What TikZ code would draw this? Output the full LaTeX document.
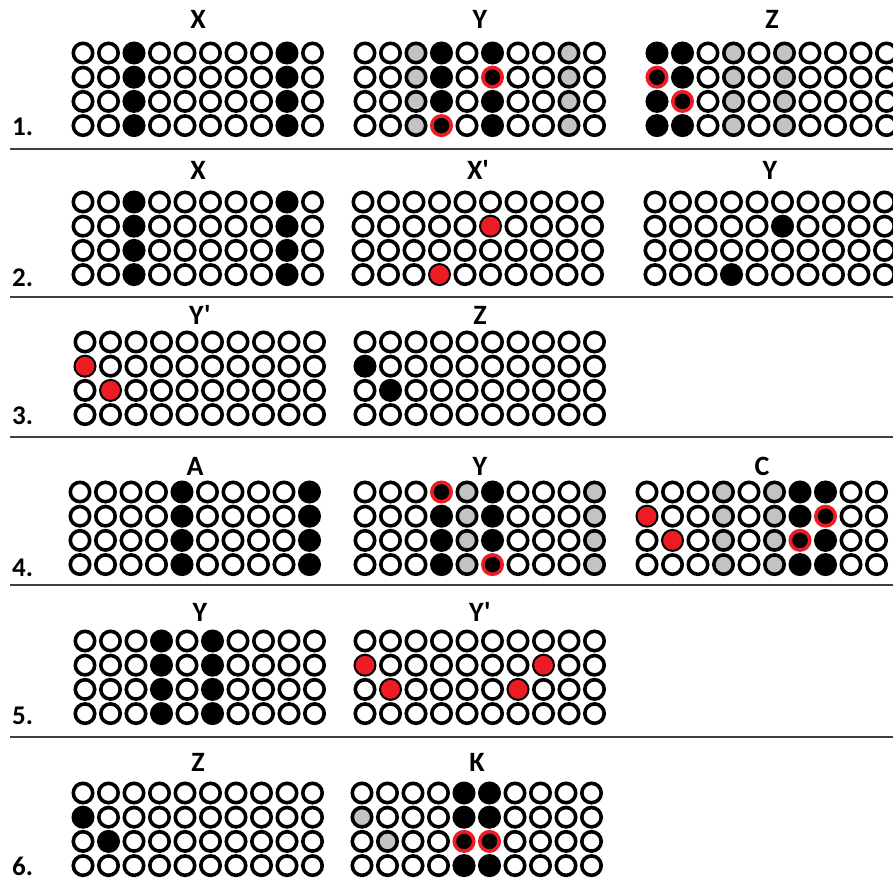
\documentclass[tikz,border=0pt]{standalone}
\usepackage{fontspec}
\newfontfamily\lblfont{Carlito}
\definecolor{dotgrey}{HTML}{C3C3C3}
\definecolor{dotred}{HTML}{ED1C24}
\definecolor{rulegrey}{HTML}{404040}

\begin{document}
\begin{tikzpicture}[
x=1pt, y=-1pt,
dot/.style={circle, draw=black, line width=3.6pt, fill=white, minimum size=19.4pt, inner sep=0pt},
blk/.style={fill=black},
gry/.style={fill=dotgrey},
redfill/.style={fill=dotred, line width=2pt, minimum size=21pt},
redring/.style={fill=black, draw=dotred},
title/.style={font=\lblfont\bfseries\fontsize{28}{28}\selectfont, inner sep=0pt},
rowno/.style={font=\lblfont\bfseries\fontsize{27}{27}\selectfont, anchor=base west, inner sep=0pt},
rule/.style={rulegrey, line width=2pt},
% --- Patterns: column keys grid-col, cell keys grid-col-row ---
1x-3/.style=blk, 1x-9/.style=blk,
1y-3/.style=gry, 1y-4/.style=blk, 1y-6/.style=blk, 1y-9/.style=gry, 1y-4-4/.style=redring, 1y-6-2/.style=redring,
1z-1/.style=blk, 1z-2/.style=blk, 1z-4/.style=gry, 1z-6/.style=gry, 1z-1-2/.style=redring, 1z-2-3/.style=redring,
2x-3/.style=blk, 2x-9/.style=blk,
2xp-6-2/.style=redfill, 2xp-4-4/.style=redfill,
2y-6-2/.style=blk, 2y-4-4/.style=blk,
3yp-1-2/.style=redfill, 3yp-2-3/.style=redfill,
3z-1-2/.style=blk, 3z-2-3/.style=blk,
4a-5/.style=blk, 4a-10/.style=blk,
4y-4/.style=blk, 4y-5/.style=gry, 4y-6/.style=blk, 4y-10/.style=gry, 4y-4-1/.style=redring, 4y-6-4/.style=redring,
4c-4/.style=gry, 4c-6/.style=gry, 4c-7/.style=blk, 4c-8/.style=blk, 4c-8-2/.style=redring, 4c-7-3/.style=redring,
4c-1-2/.style=redfill, 4c-2-3/.style=redfill,
5y-4/.style=blk, 5y-6/.style=blk,
5yp-1-2/.style=redfill, 5yp-2-3/.style=redfill, 5yp-8-2/.style=redfill, 5yp-7-3/.style=redfill,
6z-1-2/.style=blk, 6z-2-3/.style=blk,
6k-5/.style=blk, 6k-6/.style=blk, 6k-5-3/.style=redring, 6k-6-3/.style=redring, 6k-1-2/.style=gry, 6k-2-3/.style=gry
]
\useasboundingbox (0,0) rectangle (893,881);

% --- Dot grids ---
\foreach \g/\gx/\gy/\ty/\lbl in {1x/83/53/19/X, 1y/365/53/19/Y, 1z/657/53/19/Z,
  2x/83/202/170/X, 2xp/363/202/170/X', 2y/655/202/170/Y,
  3yp/85/342/315/Y', 3z/365/342/315/Z,
  4a/80/492/466/A, 4y/365/492/466/Y, 4c/647/492/466/C,
  5y/85/641/612/Y, 5yp/365/641/612/Y',
  6z/83/793/762/Z, 6k/362/793/762/K} {
  \node[title] (\g) at (\gx+115,\ty) {\lbl};
  \foreach \c in {1,...,10}
    \foreach \r in {1,...,4}
      \node[dot, \g-\c/.try, \g-\c-\r/.try] (\g-\c-\r) at ({\gx+(\c-1)*25.5},{\gy+(\r-1)*24.2}) {};
}

% --- Row numbers ---
\node[rowno] (n1) at (12,135) {1.};
\node[rowno] (n2) at (12,286) {2.};
\node[rowno] (n3) at (12,424) {3.};
\node[rowno] (n4) at (12,576) {4.};
\node[rowno] (n5) at (12,724) {5.};
\node[rowno] (n6) at (12,875) {6.};

% --- Separators ---
\foreach \ry in {149,297,437,585,737}
  \draw[rule] (10,\ry) -- (893,\ry);

\end{tikzpicture}
\end{document}
